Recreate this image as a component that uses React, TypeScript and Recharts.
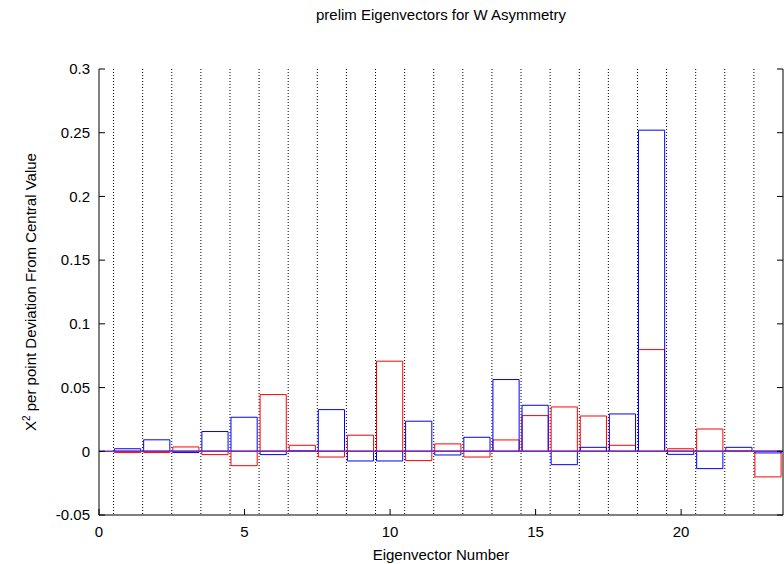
import React from 'react';
import {
  ComposedChart,
  Bar,
  XAxis,
  YAxis,
  CartesianGrid,
  ReferenceLine,
  Label
} from 'recharts';

// eigenvector index and chi^2 deviation of the two fits
const eigenvectors = [1, 2, 3, 4, 5, 6, 7, 8, 9, 10, 11, 12, 13, 14, 15, 16, 17, 18, 19, 20, 21, 22, 23];
const redDeviation = [
  -0.001, -0.001, 0.0034, -0.0026, -0.0113, 0.0445, 0.0047, -0.0045, 0.0126, 0.0707, -0.0073, 0.0058,
  -0.0045, 0.0089, 0.028, 0.0348, 0.0277, 0.0047, 0.0798, 0.002, 0.0175, 0.0003, -0.0201
];
const blueDeviation = [
  0.002, 0.009, -0.001, 0.0155, 0.0267, -0.0026, 0.0003, 0.0327, -0.0076, -0.0076, 0.0236, -0.0029,
  0.011, 0.0563, 0.0361, -0.0105, 0.0031, 0.0293, 0.252, -0.0024, -0.0136, 0.0031, -0.0013
];
const binEdges = [
  0.5, 1.5, 2.5, 3.5, 4.5, 5.5, 6.5, 7.5, 8.5, 9.5, 10.5, 11.5, 12.5, 13.5, 14.5, 15.5, 16.5, 17.5,
  18.5, 19.5, 20.5, 21.5, 22.5
];
const xTicks = [0, 5, 10, 15, 20];
const yTicks = [-0.05, 0, 0.05, 0.1, 0.15, 0.2, 0.25, 0.3];
const xDomain: [number, number] = [0, 23.5];
const yDomain: [number, number] = [-0.05, 0.3];

const data = eigenvectors.map((n, i) => ({
  n,
  red: redDeviation[i],
  blue: blueDeviation[i]
}));

const WIDTH = 784;
const HEIGHT = 564;
const LEFT_AXIS = 99;
const RIGHT_AXIS = 1;
const FONT = 15;
const boxWidth = (WIDTH - LEFT_AXIS - RIGHT_AXIS) / (xDomain[1] - xDomain[0]);

const NoTick = () => <g />;

const YTitle = ({ viewBox }: any) => {
  const cy = viewBox.y + viewBox.height / 2;
  const bx = 36;
  return (
    <text
      x={bx}
      y={cy}
      transform={`rotate(-90, ${bx}, ${cy})`}
      textAnchor="middle"
      fontSize={FONT}
      fill="#000"
    >
      X<tspan dy={-6} fontSize={10}>2</tspan>
      <tspan dy={6}> per point Deviation From Central Value</tspan>
    </text>
  );
};

export default function App() {
  return (
    <div
      style={{
        position: 'absolute',
        left: 0,
        top: 0,
        width: WIDTH,
        height: HEIGHT,
        fontFamily: '"Liberation Sans", Arial, sans-serif'
      }}
    >
      <div
        style={{
          position: 'absolute',
          left: LEFT_AXIS,
          top: 6,
          width: WIDTH - LEFT_AXIS - RIGHT_AXIS,
          textAlign: 'center',
          fontSize: FONT,
          lineHeight: '17px',
          color: '#000'
        }}
      >
        prelim Eigenvectors for W Asymmetry
      </div>
      <ComposedChart
        width={WIDTH}
        height={HEIGHT}
        data={data}
        margin={{ top: 69, right: 0, bottom: 0, left: 0 }}
        barCategoryGap={0}
        barGap={0}
      >
        <CartesianGrid
          xAxisId="main"
          yAxisId="left"
          horizontal={false}
          verticalValues={binEdges}
          stroke="#000"
          strokeDasharray="1 2"
        />
        <XAxis
          xAxisId="main"
          dataKey="n"
          type="number"
          domain={xDomain}
          ticks={xTicks}
          interval={0}
          allowDataOverflow
          height={49}
          tickSize={-6}
          tickMargin={17}
          stroke="#000"
          tick={{ fill: '#000', fontSize: FONT }}
        >
          <Label value="Eigenvector Number" position="insideBottom" offset={4} fill="#000" fontSize={FONT} />
        </XAxis>
        <XAxis
          xAxisId="alt"
          dataKey="n"
          type="number"
          domain={xDomain}
          allowDataOverflow
          height={0}
          hide
        />
        <XAxis
          xAxisId="top"
          orientation="top"
          type="number"
          domain={xDomain}
          ticks={xTicks}
          interval={0}
          allowDataOverflow
          height={0}
          tickSize={-6}
          stroke="#000"
          tick={NoTick}
        />
        <YAxis
          yAxisId="left"
          type="number"
          domain={yDomain}
          ticks={yTicks}
          interval={0}
          allowDataOverflow
          width={LEFT_AXIS}
          tickSize={-6}
          tickMargin={15}
          stroke="#000"
          tick={{ fill: '#000', fontSize: FONT }}
        >
          <Label content={YTitle} />
        </YAxis>
        <YAxis
          yAxisId="right"
          orientation="right"
          type="number"
          domain={yDomain}
          ticks={yTicks}
          interval={0}
          allowDataOverflow
          width={RIGHT_AXIS}
          tickSize={-6}
          stroke="#000"
          tick={NoTick}
        />
        <Bar
          xAxisId="main"
          yAxisId="left"
          dataKey="red"
          fill="none"
          stroke="#ff0000"
          strokeWidth={1}
          barSize={boxWidth}
          isAnimationActive={false}
        />
        <Bar
          xAxisId="alt"
          yAxisId="left"
          dataKey="blue"
          fill="none"
          stroke="#0000ff"
          strokeWidth={1}
          barSize={boxWidth}
          isAnimationActive={false}
        />
        <ReferenceLine xAxisId="main" yAxisId="left" y={0} stroke="#7a2fb5" strokeWidth={1.5} />
      </ComposedChart>
    </div>
  );
}
